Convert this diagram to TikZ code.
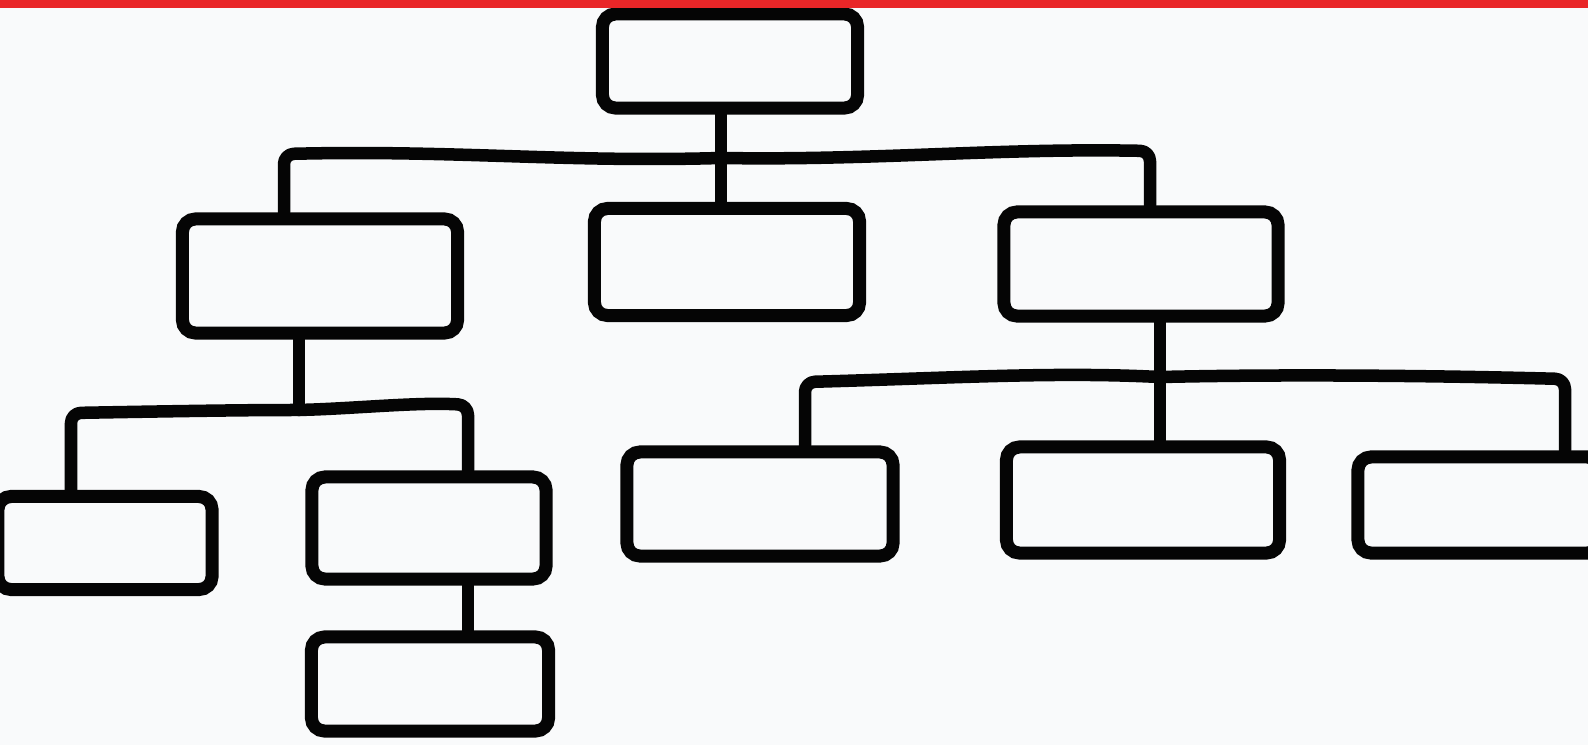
\documentclass[tikz,border=0pt]{standalone}
\usepackage{xcolor}
\definecolor{topbar}{HTML}{E92628}
\definecolor{paper}{HTML}{F9FAFB}
\definecolor{ink}{HTML}{050505}
\usetikzlibrary{positioning, calc}

\begin{document}
\begin{tikzpicture}[
        x=0.01cm, y=-0.01cm,
        orgbox/.style={rectangle, rounded corners=0.13cm, draw=ink, line width=0.13cm, fill=paper, inner sep=0pt},
        link/.style={draw=ink, line width=0.125cm, rounded corners=0.1cm, line join=round, line cap=round}
    ]

    % Paper and top band
    \useasboundingbox (0,0) rectangle (1588,745);
    \fill[paper] (0,0) rectangle (1588,745);

    % Top level
    \node[orgbox, minimum width=2.55cm, minimum height=0.94cm] (top) at (730,61) {};

    % Second level
    \node[orgbox, minimum width=2.75cm, minimum height=1.14cm] (left) at (320,276) {};
    \node[orgbox, minimum width=2.65cm, minimum height=1.07cm] (mid) at (727,262) {};
    \node[orgbox, minimum width=2.74cm, minimum height=1.04cm] (right) at (1141,264) {};

    % Third level, left branch
    \node[orgbox, minimum width=2.14cm, minimum height=0.93cm] (leftA) at (105,543) {};
    \node[orgbox, minimum width=2.34cm, minimum height=1.02cm] (leftB) at (429,528) {};
    \node[orgbox, minimum width=2.37cm, minimum height=0.94cm] (leftBsub) at (430,684) {};

    % Third level, right branch
    \node[orgbox, minimum width=2.66cm, minimum height=1.04cm] (rightA) at (760,504) {};
    \node[orgbox, minimum width=2.73cm, minimum height=1.06cm] (rightB) at (1143,500) {};
    \node[orgbox, minimum width=2.42cm, minimum height=0.96cm] (rightC) at (1479,505) {};

    % Junctions
    \coordinate (j1) at (721,158);
    \coordinate (j1l) at (284,154);
    \coordinate (j1r) at (1150,151);
    \coordinate (j2) at (299,410);
    \coordinate (j2l) at (71,413);
    \coordinate (j2r) at (468,405);
    \coordinate (j3) at (1160,377);
    \coordinate (j3l) at (805,382);
    \coordinate (j3r) at (1565,379);

    % Top to second level
    \draw[link] (top.south -| j1) -- (mid.north -| j1);
    \draw[link] (left.north -| j1l) -- (j1l) .. controls (450,150) and (560,162) .. (j1) .. controls (880,160) and (1000,148) .. (j1r) -- (right.north -| j1r);

    % Left branch
    \draw[link] (left.south -| j2) -- (j2);
    \draw[link] (leftA.north -| j2l) -- (j2l) .. controls (180,411) and (250,410) .. (j2) .. controls (360,408) and (420,402) .. (j2r) -- (leftB.north -| j2r);
    \draw[link] (leftB.south -| j2r) -- (leftBsub.north -| j2r);

    % Right branch
    \draw[link] (right.south -| j3) -- (rightB.north -| j3);
    \draw[link] (rightA.north -| j3l) -- (j3l) .. controls (950,378) and (1050,372) .. (j3) .. controls (1300,374) and (1450,376) .. (j3r) -- (rightC.north -| j3r);

    \fill[topbar] (0,0) rectangle (1588,8);

\end{tikzpicture}
\end{document}
